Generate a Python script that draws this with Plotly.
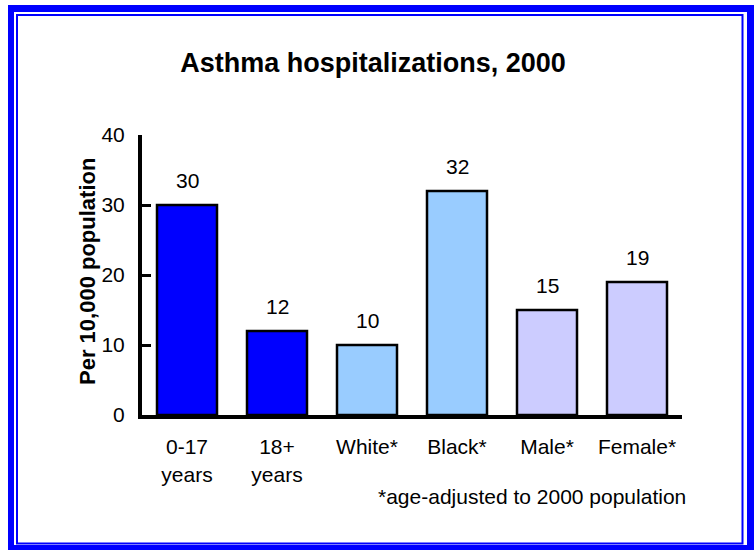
import plotly.graph_objects as go

categories = ["0-17<br>years", "18+<br>years", "White*", "Black*", "Male*", "Female*"]
values = [30, 12, 10, 32, 15, 19]
bar_colors = ["#0000FF", "#0000FF", "#99CCFF", "#99CCFF", "#CCCCFF", "#CCCCFF"]
y_ticks = [0, 10, 20, 30, 40]

W, H = 754, 550
L, R, T, B = 142, 72, 135, 135
PW, PH = W - L - R, H - T - B
FONT = "Liberation Sans, Arial, sans-serif"


def px(x):
    return (x - L) / PW


def py(y):
    return (H - B - y) / PH


fig = go.Figure()
fig.add_trace(go.Bar(
    x=categories, y=values,
    marker=dict(color=bar_colors, line=dict(color="black", width=2.5)),
    showlegend=False, hoverinfo="skip",
))

for c, v in zip(categories, values):
    fig.add_annotation(x=c, y=v, text=str(v), showarrow=False,
                       yanchor="middle", yshift=25,
                       font=dict(family=FONT, size=21, color="black"))

# y-axis title
fig.add_annotation(xref="paper", yref="paper", x=px(87), y=py(272),
                   text="<b>Per 10,000 population</b>", textangle=-90,
                   showarrow=False, xanchor="center", yanchor="middle",
                   font=dict(family=FONT, size=22, color="black"))

# footnote
fig.add_annotation(xref="paper", yref="paper", x=px(688), y=py(496),
                   text="*age-adjusted to 2000 population", showarrow=False,
                   xanchor="right", yanchor="middle",
                   font=dict(family=FONT, size=21, color="black"))

# frame
shapes = [
    dict(type="rect", xref="paper", yref="paper", layer="below",
         x0=px(8), x1=px(760), y0=py(556), y1=py(5),
         fillcolor="#0000FF", line=dict(width=0)),
    dict(type="rect", xref="paper", yref="paper", layer="below",
         x0=px(14), x1=px(747), y0=py(545), y1=py(12),
         fillcolor="white", line=dict(width=0)),
    dict(type="rect", xref="paper", yref="paper", layer="below",
         x0=px(17), x1=px(742.5), y0=py(543.5), y1=py(15),
         fillcolor="rgba(0,0,0,0)", line=dict(color="#0000FF", width=2)),
]

fig.update_layout(
    width=W, height=H,
    margin=dict(l=L, r=R, t=T, b=B, pad=0),
    paper_bgcolor="white", plot_bgcolor="rgba(0,0,0,0)",
    bargap=1/3,
    shapes=shapes,
    title=dict(text="<b>Asthma hospitalizations, 2000</b>",
               x=373 / W, xanchor="center", y=1 - 63 / H, yanchor="middle",
               yref="container", xref="container",
               font=dict(family=FONT, size=27, color="black")),
    font=dict(family=FONT, size=21, color="black"),
    xaxis=dict(showline=True, linecolor="black", linewidth=4, ticks="",
               showgrid=False, zeroline=False, ticklabelstandoff=10,
               tickfont=dict(family=FONT, size=21, color="black")),
    yaxis=dict(range=[0, 40], tickvals=y_ticks, showline=True, linecolor="black",
               linewidth=4, ticks="inside", ticklen=9, tickwidth=3,
               tickcolor="black", showgrid=False, zeroline=False,
               ticklabelstandoff=9,
               tickfont=dict(family=FONT, size=21, color="black")),
)

fig.write_html("out.html")
